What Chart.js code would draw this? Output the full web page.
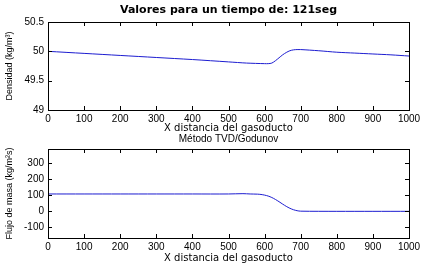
<!DOCTYPE html>
<html>
<head>
<meta charset="utf-8">
<script src="https://cdn.jsdelivr.net/npm/chart.js@4/dist/chart.umd.min.js"></script>
<style>
  html, body { margin: 0; padding: 0; background: #fff; }
  #wrap { position: relative; width: 427px; height: 273px; }
  .box { position: absolute; left: 0; width: 427px; }
</style>
</head>
<body>
<div id="wrap">
  <div class="box" style="top:0;height:135px"><canvas id="densChart"></canvas></div>
  <div class="box" style="top:131px;height:142px"><canvas id="fluxChart"></canvas></div>
</div>
<script>
// distancia del gasoducto (m)
const densX = [0, 100, 200, 300, 400, 500, 550, 600, 610, 620, 630, 640, 650, 660, 670, 680, 690, 700, 750, 800, 850, 900, 950, 1000];
const densY = [50.00, 49.965, 49.93, 49.895, 49.86, 49.82, 49.80, 49.79, 49.79, 49.80, 49.84, 49.89, 49.94, 49.98, 50.01, 50.025, 50.03, 50.03, 50.01, 49.985, 49.97, 49.955, 49.94, 49.92];

const fluxX = [0, 100, 200, 300, 400, 500, 540, 560, 580, 590, 600, 610, 620, 630, 640, 650, 660, 670, 680, 690, 700, 800, 900, 1000];
const fluxY = [108, 108, 108, 108, 108, 108, 110, 108, 107, 105, 101, 95, 86, 74, 60, 45, 31, 19, 10, 4, 1, 0, 0, 0];

const xTicks = [0, 100, 200, 300, 400, 500, 600, 700, 800, 900, 1000];
const densTicks = [49, 49.5, 50, 50.5];
const fluxTicks = [-100, 0, 100, 200, 300];

const mainTitle = "Valores para un tiempo de: 121seg";
const subTitle = "Método TVD/Godunov";
const xTitle = "X distancia del gasoducto";
const densTitle = "Densidad (kg/m³)";
const fluxTitle = "Flujo de masa (kg/m²s)";

const FONT = "'Liberation Sans', Arial, sans-serif";
const WIDE = "'DejaVu Sans', sans-serif";
const LINE = "#1c1cd0";

// caja + marcas hacia dentro (estilo MATLAB) + titulo centrado sobre el area
const boxTicks = {
  id: "boxTicks",
  afterDraw(chart, args, opts) {
    const { ctx, chartArea: a, scales } = chart;
    const len = 4;
    ctx.save();
    ctx.strokeStyle = "#000";
    ctx.lineWidth = 1;
    ctx.beginPath();
    scales.x.ticks.forEach((t) => {
      const px = Math.round(scales.x.getPixelForValue(t.value)) + 0.5;
      ctx.moveTo(px, a.bottom); ctx.lineTo(px, a.bottom - len);
      ctx.moveTo(px, a.top); ctx.lineTo(px, a.top + len);
    });
    scales.y.ticks.forEach((t) => {
      const py = Math.round(scales.y.getPixelForValue(t.value)) + 0.5;
      ctx.moveTo(a.left, py); ctx.lineTo(a.left + len, py);
      ctx.moveTo(a.right, py); ctx.lineTo(a.right - len, py);
    });
    ctx.stroke();
    ctx.strokeRect(Math.round(a.left) + 0.5, Math.round(a.top) + 0.5,
      Math.round(a.right - a.left), Math.round(a.bottom - a.top));

    if (opts.text) {
      ctx.fillStyle = "#000";
      ctx.font = opts.font;
      ctx.textAlign = "center";
      ctx.textBaseline = "middle";
      ctx.fillText(opts.text, (a.left + a.right) / 2, opts.y);
    }
    ctx.restore();
  },
};

function makeChart(id, xs, ys, yMin, yMax, yTicks, yTitle, title, titleFont, titleY, padTop, xH, padBottom) {
  const ctx = document.getElementById(id).getContext("2d");
  return new Chart(ctx, {
    type: "line",
    data: {
      datasets: [{
        data: xs.map((x, i) => ({ x, y: ys[i] })),
        borderColor: LINE,
        borderWidth: 1,
        pointRadius: 0,
        tension: 0.3,
        fill: false,
      }],
    },
    options: {
      responsive: true,
      maintainAspectRatio: false,
      animation: false,
      layout: { padding: { left: 0, right: 18, top: padTop, bottom: padBottom } },
      plugins: {
        legend: { display: false },
        tooltip: { enabled: false },
        title: { display: false },
        boxTicks: { text: title, font: titleFont, y: titleY },
      },
      scales: {
        x: {
          type: "linear",
          min: 0,
          max: 1000,
          grid: { display: false, drawTicks: false },
          border: { display: false },
          afterBuildTicks: (s) => { s.ticks = xTicks.map((v) => ({ value: v })); },
          afterFit: (s) => { s.height = xH; },
          ticks: { color: "#000", font: { family: FONT, size: 10 }, padding: 3, maxRotation: 0, autoSkip: false,
                   callback: (v) => String(v) },
          title: { display: true, text: xTitle, color: "#000", font: { family: WIDE, size: 10 }, padding: { top: 0, bottom: 1 } },
        },
        y: {
          min: yMin,
          max: yMax,
          grid: { display: false, drawTicks: false },
          border: { display: false },
          afterBuildTicks: (s) => { s.ticks = yTicks.map((v) => ({ value: v })); },
          afterFit: (s) => { s.width = 48; },
          ticks: { color: "#000", font: { family: FONT, size: 10 }, padding: 4, callback: (v) => String(v) },
          title: { display: true, text: yTitle, color: "#000", font: { family: FONT, size: 9 }, padding: { top: 4, bottom: 0 } },
        },
      },
    },
    plugins: [boxTicks],
  });
}

makeChart("densChart", densX, densY, 49, 50.5, densTicks, densTitle, mainTitle,
  "bold 11px 'DejaVu Sans', sans-serif", 10, 22, 25, 0);
makeChart("fluxChart", fluxX, fluxY, -166, 388, fluxTicks, fluxTitle, subTitle,
  "10px 'Liberation Sans', Arial, sans-serif", 8, 18, 27, 8);
</script>
</body>
</html>
